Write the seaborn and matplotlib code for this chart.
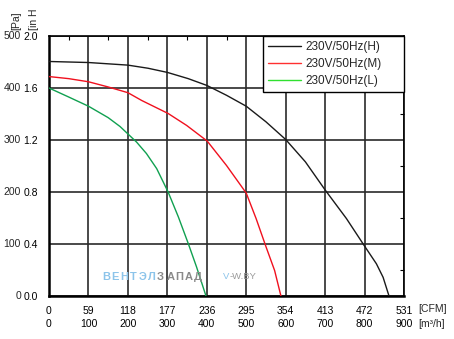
import matplotlib
matplotlib.use('Agg')
import matplotlib.pyplot as plt
import matplotlib.transforms as mtransforms
from matplotlib.lines import Line2D
from matplotlib.ticker import MultipleLocator
import pandas as pd
import seaborn as sns

series = ['230V/50Hz(H)', '230V/50Hz(M)', '230V/50Hz(L)']
flow_h = [0, 100, 200, 251, 300, 353, 400, 450, 500, 550, 600, 650, 700, 754, 800, 830, 847, 862]
pa_h = [451, 449, 444, 438, 430, 418, 405, 386, 365, 335, 301, 258, 204, 149, 96, 62, 36, 0]
flow_m = [0, 50, 100, 150, 200, 235, 302, 349, 401, 450, 500, 525, 550, 572, 588]
pa_m = [422, 418, 412, 402, 391, 376, 351, 328, 298, 251, 198, 149, 95, 49, 0]
flow_l = [0, 49, 100, 150, 180, 222, 247, 273, 302, 328, 353, 374, 398]
pa_l = [400, 383, 365, 343, 326, 296, 274, 245, 200, 152, 101, 56, 0]

m3h_ticks = [0, 100, 200, 300, 400, 500, 600, 700, 800, 900]
cfm_ticks = [0, 59, 118, 177, 236, 295, 354, 413, 472, 531]
pa_ticks = [0, 100, 200, 300, 400, 500]
inh_ticks = ['0.0', '0.4', '0.8', '1.2', '1.6', '2.0']

line_colors = ['#1a1a1a', '#f0101e', '#10a050']
legend_colors = ['#1a1a1a', '#ff3030', '#30e030']

df = pd.concat([
    pd.DataFrame({'flow': flow_h, 'pa': pa_h, 'curve': series[0]}),
    pd.DataFrame({'flow': flow_m, 'pa': pa_m, 'curve': series[1]}),
    pd.DataFrame({'flow': flow_l, 'pa': pa_l, 'curve': series[2]}),
])

sns.set_style('white')
plt.rcParams['font.family'] = ['Liberation Sans', 'DejaVu Sans']

fig = plt.figure(figsize=(4.54, 3.39), dpi=100)
W, H = 454, 339
ax = fig.add_axes([49 / W, 1 - 296 / H, (404 - 49) / W, (296 - 36) / H])

sns.lineplot(data=df, x='flow', y='pa', hue='curve', palette=dict(zip(series, line_colors)),
             sort=False, estimator=None, linewidth=1.0, ax=ax, legend=False, zorder=3)

ax.set_xlim(0, 900)
ax.set_ylim(0, 500)
ax.set_xlabel('')
ax.set_ylabel('')
ax.set_xticks(m3h_ticks)
ax.set_xticklabels([f'{c}\n{m}' for c, m in zip(cfm_ticks, m3h_ticks)], fontsize=7.5)
for lbl in ax.get_xticklabels():
    lbl.set_linespacing(1.45)
ax.set_yticks(pa_ticks)
ax.set_yticklabels(inh_ticks, fontsize=7.5)
ax.xaxis.set_minor_locator(MultipleLocator(50))
ax.yaxis.set_minor_locator(MultipleLocator(50))
ax.tick_params(which='both', direction='in', top=True, right=True, colors='black')
ax.tick_params(which='major', length=0, pad=7)
ax.tick_params(axis='y', which='major', pad=8)
ax.tick_params(which='minor', length=3, width=0.8)
ax.grid(True, which='major', color='#2a2a2a', linewidth=1.2)
for s in ax.spines.values():
    s.set_color('black')
    s.set_linewidth(1.2)
ax.spines['left'].set_linewidth(1.8)
ax.spines['bottom'].set_linewidth(1.8)

# Pa column
tr = mtransforms.blended_transform_factory(fig.transFigure, ax.transData)
for p in pa_ticks:
    ax.text(21 / W, p, str(p), transform=tr, ha='right', va='center', fontsize=7.5)

# axis unit titles
fig.text(16 / W, 1 - 30 / H, '[Pa]', rotation=90, ha='center', va='bottom', fontsize=7.5)
fig.text(34 / W, 1 - 30 / H, '[in H', rotation=90, ha='center', va='bottom', fontsize=7.5)
fig.text(418 / W, 1 - 309 / H, '[CFM]', ha='left', va='center', fontsize=7.5)
fig.text(418 / W, 1 - 324 / H, '[m³/h]', ha='left', va='center', fontsize=7.5)

# watermark
wm = 'ВЕНТЭЛЗАПАД'
for i, ch in enumerate(wm):
    col = '#8cc4ea' if i < 6 else '#8a8a8a'
    fig.text((102 + i * 9.2) / W, 1 - 276.5 / H, ch, color=col, fontsize=8, fontweight='bold',
             ha='left', va='center')
fig.text(223 / W, 1 - 276.5 / H, 'V', color='#8cc4ea', fontsize=6.8, ha='left', va='center')
fig.text(229.5 / W, 1 - 276.5 / H, '-W.BY', color='#9a9a9a', fontsize=6.8, ha='left', va='center')

handles = [Line2D([0], [0], color=c, lw=1.0) for c in legend_colors]
leg = ax.legend(handles, series, loc='upper left', mode='expand',
                bbox_to_anchor=(0.603, 0.786, 0.397, 0.214), fontsize=8.5,
                frameon=True, fancybox=False, edgecolor='black', framealpha=1,
                handlelength=2.8, labelspacing=0.42, borderpad=0.43, handletextpad=0.35,
                borderaxespad=0)
leg.get_frame().set_linewidth(1.0)
leg.set_zorder(5)

fig.savefig('out.png', dpi=100)
